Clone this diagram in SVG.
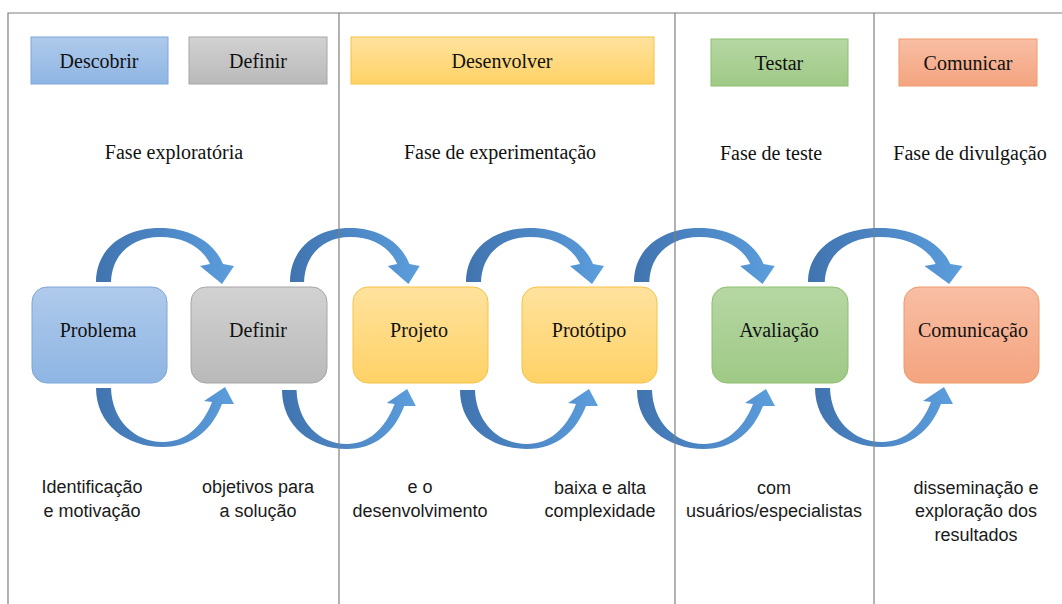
<svg xmlns="http://www.w3.org/2000/svg" xmlns:xlink="http://www.w3.org/1999/xlink" width="1062" height="604" viewBox="0 0 1062 604">
  <style>
    .serif { font-family: "Liberation Serif", "Times New Roman", serif; font-size: 20px; fill: #111; text-anchor: middle; }
    .sans { font-family: "Liberation Sans", Arial, sans-serif; font-size: 18px; fill: #1a1a1a; text-anchor: middle; }
    .frame { stroke: #7f7f7f; stroke-width: 1.2; fill: none; }
    .blue { fill: url(#gBlue); stroke: #7EA6D8; stroke-width: 1; }
    .gray { fill: url(#gGray); stroke: #A6A6A6; stroke-width: 1; }
    .gold { fill: url(#gGold); stroke: #F5C242; stroke-width: 1; }
    .green { fill: url(#gGreen); stroke: #8DBE6F; stroke-width: 1; }
    .orange { fill: url(#gOrange); stroke: #EE9A6C; stroke-width: 1; }
    .arrow { fill: url(#gArrow); }
  </style>
  <defs>
    <linearGradient id="gBlue" x1="0" y1="0" x2="0" y2="1">
      <stop offset="0" stop-color="#AFCAEB"/>
      <stop offset="1" stop-color="#8EB5E3"/>
    </linearGradient>
    <linearGradient id="gGray" x1="0" y1="0" x2="0" y2="1">
      <stop offset="0" stop-color="#D2D2D2"/>
      <stop offset="1" stop-color="#B9B9B9"/>
    </linearGradient>
    <linearGradient id="gGold" x1="0" y1="0" x2="0" y2="1">
      <stop offset="0" stop-color="#FFE29E"/>
      <stop offset="1" stop-color="#FFD266"/>
    </linearGradient>
    <linearGradient id="gGreen" x1="0" y1="0" x2="0" y2="1">
      <stop offset="0" stop-color="#B6D7A3"/>
      <stop offset="1" stop-color="#9FC986"/>
    </linearGradient>
    <linearGradient id="gOrange" x1="0" y1="0" x2="0" y2="1">
      <stop offset="0" stop-color="#F8BEA4"/>
      <stop offset="1" stop-color="#F4A47F"/>
    </linearGradient>
    <linearGradient id="gArrow" x1="0" y1="0" x2="1" y2="0">
      <stop offset="0" stop-color="#4074AF"/>
      <stop offset="0.5" stop-color="#4D87C6"/>
      <stop offset="1" stop-color="#5C9EDC"/>
    </linearGradient>
    <path id="arrTop" class="arrow" d="M0,282 C0,250 26,228 64,228 C94,228 118,242 127,264 L138,266 L126,284 L104,266 L114,264 C106,247 88,237 64,237 C36,237 16,254 15,282 Z"/>
    <path id="arrBot" class="arrow" d="M0,388 C0,424 30,447 67,447 C96,447 116,430 126,404 L138,404 L129,387 L108,401 L116,402 C106,428 88,442 67,442 C38,442 16,420 15,388 Z"/>
  </defs>

  <rect x="0" y="0" width="1062" height="604" fill="#ffffff"/>

  <g id="connectors">
    <use xlink:href="#arrTop" href="#arrTop" transform="translate(96 0)"/>
    <use xlink:href="#arrTop" href="#arrTop" transform="translate(290 0) scale(0.94 1)"/>
    <use xlink:href="#arrTop" href="#arrTop" transform="translate(466 0)"/>
    <use xlink:href="#arrTop" href="#arrTop" transform="translate(634 0) scale(1.02 1)"/>
    <use xlink:href="#arrTop" href="#arrTop" transform="translate(808 0) scale(1.12 1)"/>
    <use xlink:href="#arrBot" href="#arrBot" transform="translate(96 0)"/>
    <use xlink:href="#arrBot" href="#arrBot" transform="translate(282 2) scale(0.97 1)"/>
    <use xlink:href="#arrBot" href="#arrBot" transform="translate(460 2)"/>
    <use xlink:href="#arrBot" href="#arrBot" transform="translate(637 2)"/>
    <use xlink:href="#arrBot" href="#arrBot" transform="translate(815 0)"/>
  </g>

  <g id="frame">
    <path class="frame" d="M8,604 V13 H1062"/>
    <line class="frame" x1="339" y1="13" x2="339" y2="604"/>
    <line class="frame" x1="675" y1="13" x2="675" y2="604"/>
    <line class="frame" x1="874" y1="13" x2="874" y2="604"/>
  </g>

  <g id="header-descobrir">
    <rect class="blue" x="31" y="37" width="137" height="47"/>
    <text class="serif" x="99" y="68">Descobrir</text>
  </g>
  <g id="header-definir">
    <rect class="gray" x="189" y="37" width="138" height="47"/>
    <text class="serif" x="258" y="68">Definir</text>
  </g>
  <g id="header-desenvolver">
    <rect class="gold" x="351" y="37" width="303" height="47"/>
    <text class="serif" x="502" y="68">Desenvolver</text>
  </g>
  <g id="header-testar">
    <rect class="green" x="711" y="39" width="137" height="47"/>
    <text class="serif" x="779" y="70">Testar</text>
  </g>
  <g id="header-comunicar">
    <rect class="orange" x="899" y="39" width="138" height="47"/>
    <text class="serif" x="968" y="70">Comunicar</text>
  </g>

  <g id="phases">
    <text class="serif" x="174" y="159">Fase exploratória</text>
    <text class="serif" x="500" y="159">Fase de experimentação</text>
    <text class="serif" x="771" y="160">Fase de teste</text>
    <text class="serif" x="970" y="160">Fase de divulgação</text>
  </g>

  <g id="node-problema">
    <rect class="blue" x="32" y="287" width="135" height="96" rx="15"/>
    <text class="serif" x="98" y="337">Problema</text>
  </g>
  <g id="node-definir">
    <rect class="gray" x="191" y="287" width="136" height="96" rx="15"/>
    <text class="serif" x="258" y="337">Definir</text>
  </g>
  <g id="node-projeto">
    <rect class="gold" x="353" y="287" width="135" height="96" rx="15"/>
    <text class="serif" x="419" y="337">Projeto</text>
  </g>
  <g id="node-prototipo">
    <rect class="gold" x="522" y="287" width="135" height="96" rx="15"/>
    <text class="serif" x="589" y="337">Protótipo</text>
  </g>
  <g id="node-avaliacao">
    <rect class="green" x="712" y="287" width="136" height="96" rx="15"/>
    <text class="serif" x="779" y="337">Avaliação</text>
  </g>
  <g id="node-comunicacao">
    <rect class="orange" x="904" y="287" width="135" height="96" rx="15"/>
    <text class="serif" x="973" y="337">Comunicação</text>
  </g>

  <g id="descriptions">
    <text class="sans" x="92" y="493">Identificação</text>
    <text class="sans" x="92" y="517">e motivação</text>
    <text class="sans" x="258" y="493">objetivos para</text>
    <text class="sans" x="258" y="517">a solução</text>
    <text class="sans" x="420" y="493">e o</text>
    <text class="sans" x="420" y="517">desenvolvimento</text>
    <text class="sans" x="600" y="494">baixa e alta</text>
    <text class="sans" x="600" y="517">complexidade</text>
    <text class="sans" x="774" y="494">com</text>
    <text class="sans" x="774" y="517">usuários/especialistas</text>
    <text class="sans" x="976" y="494">disseminação e</text>
    <text class="sans" x="976" y="517">exploração dos</text>
    <text class="sans" x="976" y="541">resultados</text>
  </g>
</svg>
